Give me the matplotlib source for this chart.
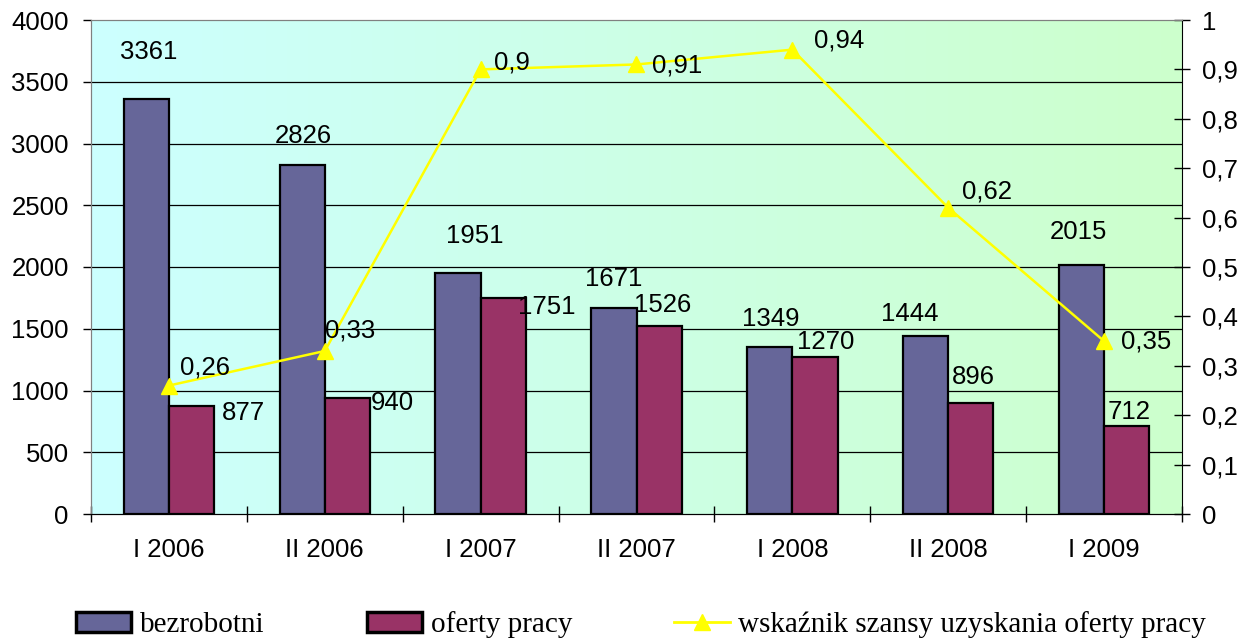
import matplotlib.pyplot as plt
import numpy as np
from matplotlib.colors import LinearSegmentedColormap
from matplotlib.patches import Patch
from matplotlib.lines import Line2D

plt.rcParams['font.family'] = ['Liberation Sans', 'DejaVu Sans']

# dane
okresy = ['I 2006', 'II 2006', 'I 2007', 'II 2007', 'I 2008', 'II 2008', 'I 2009']
bezrobotni = [3361, 2826, 1951, 1671, 1349, 1444, 2015]
oferty = [877, 940, 1751, 1526, 1270, 896, 712]
wskaznik = [0.26, 0.33, 0.90, 0.91, 0.94, 0.62, 0.35]

# przesunięcia etykiet (piksele), jak w Excelu
off_bezr = [(2, 47), (1, 29), (17, 37), (0, 29), (1, 28), (-16, 22), (-3, 33)]
off_ofer = [(52, -7), (45, -5), (44, -9), (4, 21), (11, 15), (3, 26), (2, 14)]
off_wsk = [(36, 18), (25, 20), (31, 7), (41, -1), (47, 9), (39, 16), (42, 0)]

fig = plt.figure(figsize=(12.52, 6.42), dpi=100)
ax = fig.add_axes([91 / 1252, 1 - 514 / 642, 1091 / 1252, 494 / 642])
ax2 = ax.twinx()

x = np.arange(len(okresy))
w = 0.29
fs = 18.5

# tło z gradientem
cmap = LinearSegmentedColormap.from_list('tlo', ['#ccffff', '#ccffcc'])
grad = np.linspace(0, 1, 256).reshape(1, -1)
ax.imshow(grad, extent=[-0.5, len(okresy) - 0.5, 0, 4000], aspect='auto',
          cmap=cmap, zorder=0)

ax.set_xlim(-0.5, len(okresy) - 0.5)
ax.set_ylim(0, 4000)
ax2.set_ylim(0, 1)

for yy in range(500, 4000, 500):
    ax.axhline(yy, color='black', lw=0.9, zorder=1)

ax.bar(x - w / 2, bezrobotni, w, color='#666699', edgecolor='black', lw=1.6, zorder=2)
ax.bar(x + w / 2, oferty, w, color='#993366', edgecolor='black', lw=1.6, zorder=2)

for xi, v, o in zip(x, bezrobotni, off_bezr):
    ax.annotate(str(v), (xi - w / 2, v), xytext=o, textcoords='offset pixels',
                ha='center', va='center', fontsize=fs)
for xi, v, o in zip(x, oferty, off_ofer):
    ax.annotate(str(v), (xi + w / 2, v), xytext=o, textcoords='offset pixels',
                ha='center', va='center', fontsize=fs)

ax2.plot(x, wskaznik, color='#ffff00', lw=1.8, marker='^', ms=12, zorder=3)
for xi, v, o in zip(x, wskaznik, off_wsk):
    ax2.annotate(f'{v:g}'.replace('.', ','), (xi, v), xytext=o,
                 textcoords='offset pixels', ha='center', va='center', fontsize=fs)

# osie
ax.set_xticks(np.arange(-0.5, len(okresy), 1))
ax.set_xticklabels([])
ax.set_xticks(x, minor=True)
ax.set_xticklabels(okresy, minor=True, fontsize=fs)
ax.tick_params(axis='x', which='major', direction='inout', length=12, width=1)
ax.tick_params(axis='x', which='minor', length=0, pad=17)
ax.set_yticks(range(0, 4001, 500))
ax.tick_params(axis='y', labelsize=fs, length=6, width=1, direction='out', pad=10)
ax2.set_yticks(np.arange(0, 1.01, 0.1))
ax2.set_yticklabels(['0', '0,1', '0,2', '0,3', '0,4', '0,5', '0,6', '0,7', '0,8', '0,9', '1'])
ax2.tick_params(axis='y', labelsize=fs, length=11.5, width=1, direction='inout', pad=9)

for s in ['top', 'left']:
    ax.spines[s].set_color('#808080')
    ax2.spines[s].set_color('#808080')
ax2.spines['right'].set_color('black')
ax.spines['bottom'].set_color('black')
ax.spines['right'].set_visible(False)

uchwyty = [
    Patch(facecolor='#666699', edgecolor='black', lw=2.5, label='bezrobotni'),
    Patch(facecolor='#993366', edgecolor='black', lw=2.5, label='oferty pracy'),
    Line2D([], [], color='#ffff00', lw=2, marker='^', ms=12,
           label='wskaźnik szansy uzyskania oferty pracy'),
]
fig.legend(handles=uchwyty, loc='center', ncol=3,
           bbox_to_anchor=(641 / 1252, 1 - 625 / 642), frameon=False,
           prop={'family': 'Liberation Serif', 'size': 21},
           columnspacing=3.5, handlelength=1.9, handletextpad=0.3)

fig.savefig('out.png', dpi=100)
